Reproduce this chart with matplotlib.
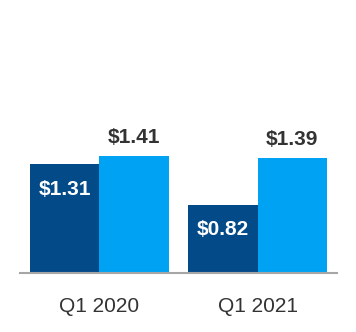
import matplotlib
matplotlib.use("Agg")
import matplotlib.pyplot as plt
import numpy as np

plt.rcParams['font.family'] = ['Liberation Sans', 'DejaVu Sans']

categories = ["Q1 2020", "Q1 2021"]
series_dark = [1.31, 0.82]
series_light = [1.41, 1.39]
labels_dark = ["$1.31", "$0.82"]
labels_light = ["$1.41", "$1.39"]

DARK = "#034a89"
LIGHT = "#00a3f4"
TEXT = "#333333"

fig = plt.figure(figsize=(3.56, 3.32), dpi=100)
ax = fig.add_axes([20 / 356, (332 - 273) / 332, (337 - 20) / 356, 273 / 332])

x = np.arange(len(categories))
w = 0.437
b1 = ax.bar(x - w / 2, series_dark, width=w, color=DARK, zorder=2)
b2 = ax.bar(x + w / 2, series_light, width=w, color=LIGHT, zorder=2)

ax.set_xlim(-0.5, 1.5)
ax.set_ylim(0, 3.29)

for rect, lab in zip(b1, labels_dark):
    ax.annotate(lab, (rect.get_x() + rect.get_width() / 2, rect.get_height()),
                xytext=(0, -18), textcoords="offset points",
                ha="center", va="center", color="white",
                fontsize=15, fontweight="bold")
for rect, lab in zip(b2, labels_light):
    ax.annotate(lab, (rect.get_x() + rect.get_width() / 2, rect.get_height()),
                xytext=(0, 13), textcoords="offset points",
                ha="center", va="center", color=TEXT,
                fontsize=15, fontweight="bold")

for s in ["top", "right", "left"]:
    ax.spines[s].set_visible(False)
ax.spines["bottom"].set_color("#a6a6a6")
ax.spines["bottom"].set_linewidth(1.5)
ax.spines["bottom"].set_zorder(3)
ax.set_yticks([])
ax.set_xticks(x)
ax.set_xticklabels(categories, fontsize=15, color=TEXT)
ax.tick_params(axis="x", length=0, pad=17.5)

fig.savefig("out.png", dpi=100)
